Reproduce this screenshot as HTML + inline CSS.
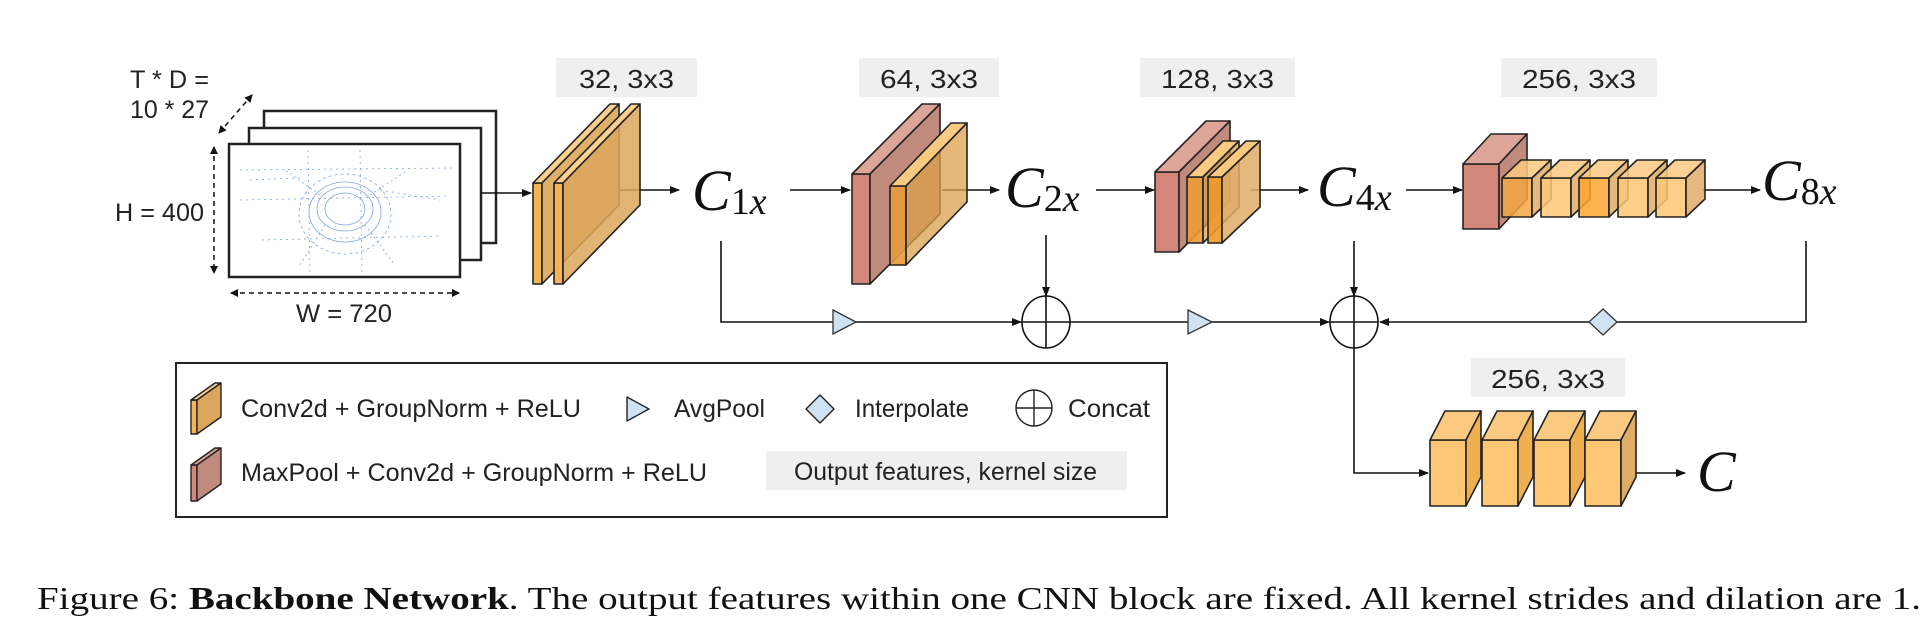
<!DOCTYPE html>
<html><head><meta charset="utf-8"><style>
html,body{margin:0;padding:0;background:#fff;}
svg{display:block;}
.l{font-family:"Liberation Sans",sans-serif;fill:#222;}
.c{font-family:"Liberation Serif",serif;font-style:italic;fill:#111;}
</style></head><body>
<svg width="1928" height="642" viewBox="0 0 1928 642" xmlns="http://www.w3.org/2000/svg">
<defs>
<marker id="a" markerWidth="10" markerHeight="8" refX="9" refY="4" orient="auto" markerUnits="userSpaceOnUse"><path d="M0,0 L10,4 L0,8 Z" fill="#111"/></marker>
<marker id="s" markerWidth="8" markerHeight="8" refX="7" refY="4" orient="auto-start-reverse" markerUnits="userSpaceOnUse"><path d="M0,0 L8,4 L0,8 Z" fill="#111"/></marker>
</defs>
<g stroke="#222" stroke-width="1.5">
<rect x="264" y="111" width="232" height="132" fill="#fff" stroke-width="2.5"/>
<rect x="249" y="128" width="232" height="132" fill="#fff" stroke-width="2.5"/>
<rect x="229" y="144" width="231" height="133" fill="#fff" stroke-width="2.5"/>
</g>
<g stroke="#4a7fd8" stroke-width="0.8" fill="none" opacity="0.7">
<ellipse cx="345" cy="209" rx="20" ry="16"/><ellipse cx="345" cy="209" rx="28" ry="22"/><ellipse cx="345" cy="212" rx="36" ry="30"/>
<ellipse cx="345" cy="214" rx="46" ry="40" stroke-dasharray="3 3"/>
<path d="M240 170 L455 168 M240 200 L450 196 M308 150 L310 275 M360 150 L362 275 M262 240 L440 236 M250 180 L300 178 M380 190 L440 200" stroke-dasharray="2 4"/>
<path d="M325 225 L300 265 M365 225 L395 265 M320 195 L285 170 M370 195 L405 172" stroke-dasharray="2 3"/>
</g>
<ellipse cx="343" cy="209" rx="12" ry="10" fill="#fff"/>
<g stroke="#111" stroke-width="1.5" stroke-dasharray="5 4" fill="none">
<line x1="252" y1="95" x2="219" y2="133" marker-start="url(#s)" marker-end="url(#s)"/>
<line x1="214" y1="147" x2="214" y2="273" marker-start="url(#s)" marker-end="url(#s)"/>
<line x1="231" y1="293" x2="459" y2="293" marker-start="url(#s)" marker-end="url(#s)"/>
</g>
<text class="l" x="130" y="88" font-size="25" textLength="79" lengthAdjust="spacingAndGlyphs">T * D =</text>
<text class="l" x="130" y="118" font-size="25" textLength="79" lengthAdjust="spacingAndGlyphs">10 * 27</text>
<text class="l" x="115" y="221" font-size="25" textLength="89" lengthAdjust="spacingAndGlyphs">H = 400</text>
<text class="l" x="296" y="322" font-size="25" textLength="96" lengthAdjust="spacingAndGlyphs">W = 720</text>

<g fill="#efefef">
<rect x="556" y="58" width="141" height="39"/><rect x="859" y="58" width="140" height="39"/>
<rect x="1140" y="58" width="155" height="39"/><rect x="1501" y="58" width="156" height="39"/>
<rect x="1471" y="358" width="154" height="39"/><rect x="766" y="451" width="361" height="39"/>
</g>
<g class="l" font-size="26" lengthAdjust="spacingAndGlyphs">
<text x="579" y="88" textLength="95" lengthAdjust="spacingAndGlyphs">32, 3x3</text>
<text x="880" y="88" textLength="98" lengthAdjust="spacingAndGlyphs">64, 3x3</text>
<text x="1161" y="88" textLength="113" lengthAdjust="spacingAndGlyphs">128, 3x3</text>
<text x="1522" y="88" textLength="114" lengthAdjust="spacingAndGlyphs">256, 3x3</text>
<text x="1491" y="388" textLength="114" lengthAdjust="spacingAndGlyphs">256, 3x3</text>
</g>

<g stroke="#111" stroke-width="1.6" fill="none">
<line x1="481" y1="193" x2="531" y2="193" marker-end="url(#a)"/>
<line x1="620" y1="190" x2="679" y2="190" marker-end="url(#a)"/>
<line x1="790" y1="190" x2="850" y2="190" marker-end="url(#a)"/>
<line x1="942" y1="190" x2="999" y2="190" marker-end="url(#a)"/>
<line x1="1096" y1="190" x2="1154" y2="190" marker-end="url(#a)"/>
<line x1="1251" y1="190" x2="1308" y2="190" marker-end="url(#a)"/>
<line x1="1406" y1="190" x2="1462" y2="190" marker-end="url(#a)"/>
<line x1="1703" y1="190" x2="1760" y2="190" marker-end="url(#a)"/>
<polyline points="721,241 721,322 1021,322" marker-end="url(#a)"/>
<line x1="1046" y1="235" x2="1046" y2="296" marker-end="url(#a)"/>
<line x1="1070" y1="322" x2="1329" y2="322" marker-end="url(#a)"/>
<line x1="1354" y1="241" x2="1354" y2="296" marker-end="url(#a)"/>
<polyline points="1806,241 1806,322 1380,322" marker-end="url(#a)"/>
<polyline points="1354,348 1354,473 1428,473" marker-end="url(#a)"/>
<line x1="1636" y1="473" x2="1685" y2="473" marker-end="url(#a)"/>
<ellipse cx="1046" cy="322" rx="24" ry="26"/><line x1="1022" y1="322" x2="1070" y2="322"/><line x1="1046" y1="296" x2="1046" y2="348"/>
<ellipse cx="1354" cy="322" rx="24" ry="26"/><line x1="1330" y1="322" x2="1378" y2="322"/><line x1="1354" y1="296" x2="1354" y2="348"/>
</g>
<g stroke="#333" stroke-width="1.3" fill="#cfe2f3">
<polygon points="833,310 856,322 833,334"/>
<polygon points="1188,310 1212,322 1188,334"/>
<polygon points="1603,309 1617,322 1603,335 1589,322"/>
</g>

<g stroke="#222" stroke-width="1.6" stroke-linejoin="round">
<rect x="533" y="183" width="9" height="101" fill="#f5b556"/>
<polygon points="533,183 610,104 619,104 542,183" fill="#fcd08e"/>
<polygon points="542,183 619,104 619,205 542,284" fill="#d9a24f" fill-opacity="0.85"/>
<rect x="554" y="183" width="9" height="101" fill="#f5b556"/>
<polygon points="554,183 631,104 640,104 563,183" fill="#fcd08e"/>
<polygon points="563,183 640,104 640,205 563,284" fill="#dca75c" fill-opacity="0.85"/>
<rect x="852" y="174" width="18" height="110" fill="#d3877a"/>
<polygon points="852,174 922,104 940,104 870,174" fill="#dca598"/>
<polygon points="870,174 940,104 940,214 870,284" fill="#c08a7c"/>
<rect x="890" y="186" width="16" height="79" fill="#e89a3c" fill-opacity="0.9"/>
<polygon points="890,186 951,123 967,123 906,186" fill="#fcc980"/>
<polygon points="906,186 967,123 967,202 906,265" fill="#dba04c" fill-opacity="0.75"/>
<rect x="1155" y="172" width="24" height="80" fill="#d3877a"/>
<polygon points="1155,172 1206,121 1230,121 1179,172" fill="#dca598"/>
<polygon points="1179,172 1230,121 1230,201 1179,252" fill="#c08a7c"/>
<rect x="1187" y="177" width="16" height="66" fill="#ea9a36" fill-opacity="0.9"/>
<polygon points="1187,177 1223,141 1239,141 1203,177" fill="#fcc980"/>
<polygon points="1203,177 1239,141 1239,207 1203,243" fill="#dba04c" fill-opacity="0.75"/>
<rect x="1208" y="177" width="14" height="66" fill="#ee9a2a" fill-opacity="0.9"/>
<polygon points="1208,177 1246,141 1260,141 1222,177" fill="#fcc980"/>
<polygon points="1222,177 1260,141 1260,207 1222,243" fill="#e0ad66" fill-opacity="0.85"/>
<rect x="1463" y="164" width="36" height="65" fill="#d3877a"/>
<polygon points="1463,164 1491,134 1527,134 1499,164" fill="#dca598"/>
<polygon points="1499,164 1527,134 1527,199 1499,229" fill="#c08a7c"/>
<g fill-opacity="0.85">
<rect x="1502" y="178" width="30" height="39" fill="#f3a643"/><polygon points="1502,178 1521,160 1551,160 1532,178" fill="#fcc980"/><polygon points="1532,178 1551,160 1551,199 1532,217" fill="#e0ad66"/>
<rect x="1541" y="178" width="30" height="39" fill="#fdc774"/><polygon points="1541,178 1560,160 1590,160 1571,178" fill="#fcc980"/><polygon points="1571,178 1590,160 1590,199 1571,217" fill="#e0ad66"/>
<rect x="1579" y="178" width="30" height="39" fill="#fba62e"/><polygon points="1579,178 1598,160 1628,160 1609,178" fill="#fcc980"/><polygon points="1609,178 1628,160 1628,199 1609,217" fill="#e0ad66"/>
<rect x="1618" y="178" width="30" height="39" fill="#fdc774"/><polygon points="1618,178 1637,160 1667,160 1648,178" fill="#fcc980"/><polygon points="1648,178 1667,160 1667,199 1648,217" fill="#e0ad66"/>
<rect x="1656" y="178" width="30" height="39" fill="#fdc774"/><polygon points="1656,178 1675,160 1705,160 1686,178" fill="#fcc980"/><polygon points="1686,178 1705,160 1705,199 1686,217" fill="#e0ad66"/>
</g>
<rect x="1430" y="440" width="36" height="66" fill="#fdc774"/><polygon points="1430,440 1445,411 1481,411 1466,440" fill="#fcc980"/><polygon points="1466,440 1481,411 1481,477 1466,506" fill="#f0b050"/>
<rect x="1482" y="440" width="36" height="66" fill="#fdc774"/><polygon points="1482,440 1497,411 1533,411 1518,440" fill="#fcc980"/><polygon points="1518,440 1533,411 1533,477 1518,506" fill="#f0b050"/>
<rect x="1534" y="440" width="36" height="66" fill="#fdc774"/><polygon points="1534,440 1549,411 1585,411 1570,440" fill="#fcc980"/><polygon points="1570,440 1585,411 1585,477 1570,506" fill="#f0b050"/>
<rect x="1585" y="440" width="36" height="66" fill="#fdc774"/><polygon points="1585,440 1600,411 1636,411 1621,440" fill="#fcc980"/><polygon points="1621,440 1636,411 1636,477 1621,506" fill="#e0ad66"/>
</g>

<g class="c">
<text x="692" y="210" font-size="58">C<tspan font-size="38" font-style="normal" dy="4">1</tspan><tspan font-size="38">x</tspan></text>
<text x="1005" y="207" font-size="58">C<tspan font-size="38" font-style="normal" dy="4">2</tspan><tspan font-size="38">x</tspan></text>
<text x="1317" y="206" font-size="58">C<tspan font-size="38" font-style="normal" dy="4">4</tspan><tspan font-size="38">x</tspan></text>
<text x="1762" y="200" font-size="58">C<tspan font-size="38" font-style="normal" dy="4">8</tspan><tspan font-size="38">x</tspan></text>
<text x="1697" y="491" font-size="58">C</text>
</g>

<rect x="176" y="363" width="991" height="154" fill="none" stroke="#222" stroke-width="2"/>
<g stroke="#222" stroke-width="1.4" stroke-linejoin="round">
<rect x="191" y="400" width="6" height="34" fill="#f5b556"/><polygon points="191,400 215,383 221,383 197,400" fill="#fcd08e"/><polygon points="197,400 221,383 221,417 197,434" fill="#dca75c"/>
<rect x="191" y="465" width="6" height="36" fill="#d3877a"/><polygon points="191,465 215,448 221,448 197,465" fill="#dca598"/><polygon points="197,465 221,448 221,484 197,501" fill="#c08a7c"/>
<polygon points="627,397 649,409 627,421" fill="#cfe2f3"/>
<polygon points="820,395 834,409 820,423 806,409" fill="#cfe2f3"/>
<ellipse cx="1034" cy="408" rx="18" ry="18" fill="none"/><line x1="1016" y1="408" x2="1052" y2="408"/><line x1="1034" y1="390" x2="1034" y2="426"/>
</g>
<g class="l" font-size="25">
<text x="241" y="417" textLength="340" lengthAdjust="spacingAndGlyphs">Conv2d + GroupNorm + ReLU</text>
<text x="674" y="417" textLength="91" lengthAdjust="spacingAndGlyphs">AvgPool</text>
<text x="855" y="417" textLength="114" lengthAdjust="spacingAndGlyphs">Interpolate</text>
<text x="1068" y="417" textLength="82" lengthAdjust="spacingAndGlyphs">Concat</text>
<text x="241" y="481" textLength="466" lengthAdjust="spacingAndGlyphs">MaxPool + Conv2d + GroupNorm + ReLU</text>
<text x="794" y="480" textLength="303" lengthAdjust="spacingAndGlyphs">Output features, kernel size</text>
</g>

<text x="37" y="609" font-family="Liberation Serif, serif" font-size="32" fill="#111" textLength="1884" lengthAdjust="spacingAndGlyphs">Figure 6: <tspan font-weight="bold">Backbone Network</tspan>. The output features within one CNN block are fixed. All kernel strides and dilation are 1.</text>
</svg>
</body></html>
